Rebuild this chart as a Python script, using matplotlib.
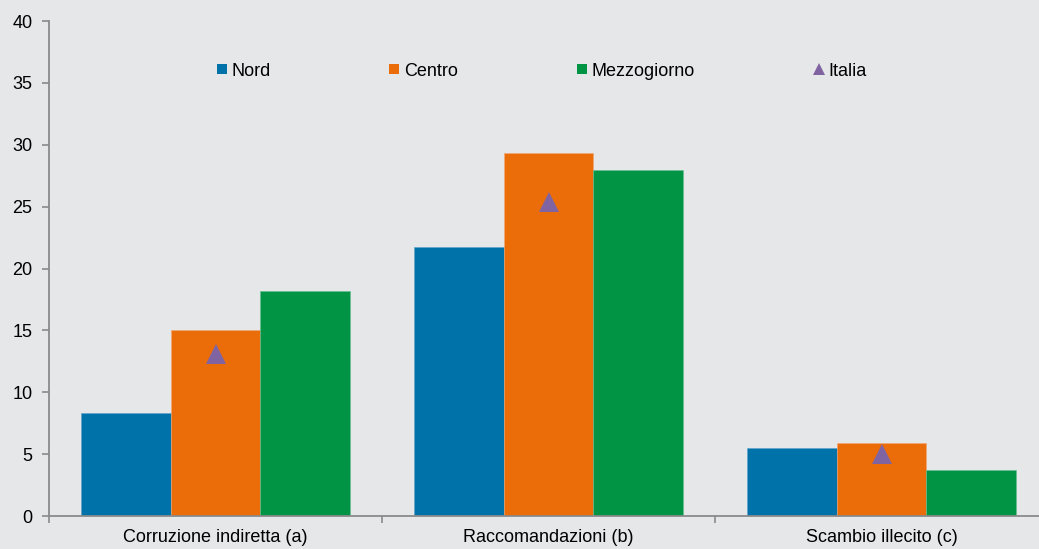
import matplotlib
matplotlib.use("Agg")
import numpy as np
from matplotlib import pyplot as plt
from matplotlib.lines import Line2D

plt.rcParams["font.family"] = ["Liberation Sans", "DejaVu Sans"]

# dati
categorie = ["Corruzione indiretta (a)", "Raccomandazioni (b)", "Scambio illecito (c)"]
nord = [8.3, 21.7, 5.5]
centro = [15.0, 29.3, 5.9]
mezzogiorno = [18.2, 28.0, 3.7]
italia = [13.1, 25.4, 5.0]

c_nord = "#0072AA"
c_centro = "#EB6D0A"
c_mezzo = "#009444"
c_italia = "#8064A2"
sfondo = "#E6E7E9"
grigio = "#8A8A8A"

fig = plt.figure(figsize=(10.39, 5.49), dpi=100, facecolor=sfondo)
ax = fig.add_axes([0.0472, 0.0601, 0.9615, 0.9016])
ax.set_facecolor(sfondo)

x = np.arange(len(categorie))
w = 0.27
ax.bar(x - w, nord, w, color=c_nord, edgecolor="#5FA3CC", linewidth=0.4)
ax.bar(x, centro, w, color=c_centro, edgecolor="#F2A873", linewidth=0.4)
ax.bar(x + w, mezzogiorno, w, color=c_mezzo, edgecolor="#66BF8F", linewidth=0.4)
ax.plot(x, italia, linestyle="none", marker="^", markersize=15,
        color=c_italia, markeredgewidth=0, zorder=3)

ax.set_xlim(-0.5, 2.5)
ax.set_ylim(0, 40)
ax.set_yticks(np.arange(0, 41, 5))

ax.set_xticks(x)
ax.set_xticklabels(categorie, fontsize=13)
ax.set_xticks([-0.5, 0.5, 1.5], minor=True)
ax.tick_params(axis="x", which="major", length=0, pad=9)
ax.tick_params(axis="x", which="minor", length=5, width=1.2, color=grigio)
ax.tick_params(axis="y", length=5, width=1.2, color=grigio, pad=7, labelsize=13)

for s in ["top", "right"]:
    ax.spines[s].set_visible(False)
for s in ["left", "bottom"]:
    ax.spines[s].set_color(grigio)
    ax.spines[s].set_linewidth(1.3)

handles = [
    Line2D([], [], linestyle="none", marker="s", markersize=6.5, color=c_nord, markeredgewidth=0),
    Line2D([], [], linestyle="none", marker="s", markersize=6.5, color=c_centro, markeredgewidth=0),
    Line2D([], [], linestyle="none", marker="s", markersize=6.5, color=c_mezzo, markeredgewidth=0),
    Line2D([], [], linestyle="none", marker="^", markersize=9, color=c_italia, markeredgewidth=0),
]
fig.legend(handles, ["Nord", "Centro", "Mezzogiorno", "Italia"], ncol=4,
           loc="center left", bbox_to_anchor=(217 / 1039, 1 - 71 / 549),
           frameon=False, fontsize=13, handlelength=0.5, handletextpad=0.3,
           columnspacing=6.6, borderpad=0, borderaxespad=0)

fig.savefig("out.png", dpi=100, facecolor=sfondo)
